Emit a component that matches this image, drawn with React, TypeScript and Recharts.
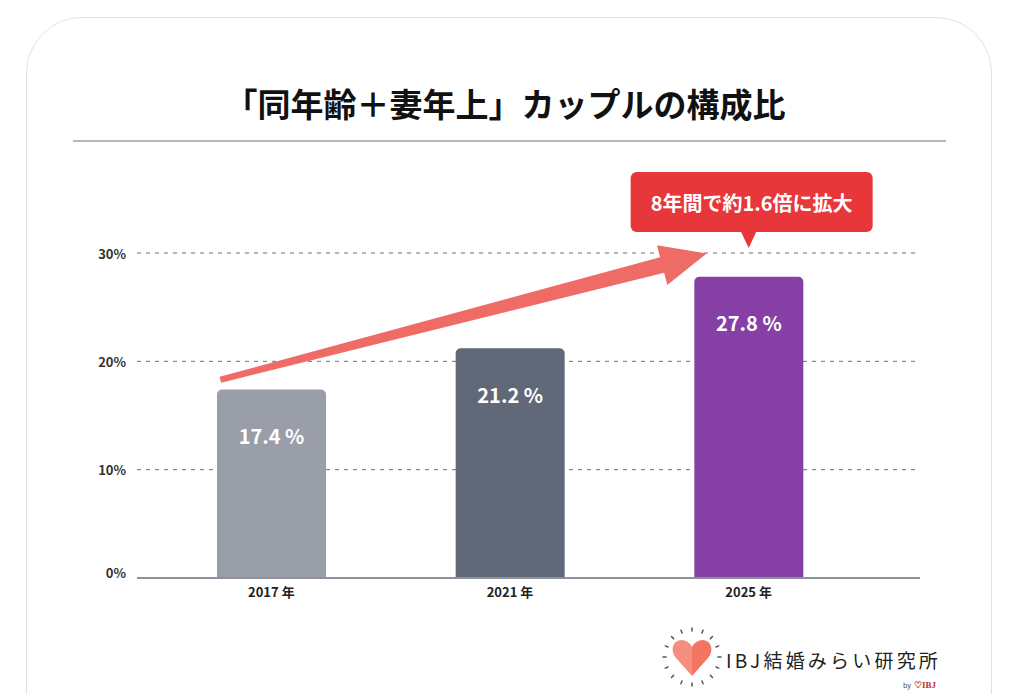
import React from "react";
import {
  BarChart,
  Bar,
  XAxis,
  YAxis,
  CartesianGrid,
  Cell,
  LabelList,
  ReferenceLine,
  ReferenceDot,
} from "recharts";

const categories = ["2017 年", "2021 年", "2025 年"];
const shares = [17.4, 21.2, 27.8];
const barColors = ["#9a9ea9", "#616877", "#863fa4"];
const yTicks = [0, 10, 20, 30];
const titleText = "「同年齢＋妻年上」カップルの構成比";
const calloutText = "8年間で約1.6倍に拡大";
const arrowFrom = { x: "2017 年", y: 18.3 };
const arrowTo = { x: "2025 年", y: 30 };

const data = categories.map((c, i) => ({ year: c, value: shares[i] }));

const FONT = '"Noto Sans CJK JP", "Noto Sans", sans-serif';

const YTick = (props: any) => {
  const { x, y, payload } = props;
  const dy = payload.value === 0 ? -6 : 0;
  return (
    <text
      x={x}
      y={y + dy}
      textAnchor="end"
      dominantBaseline="central"
      fontFamily={FONT}
      fontWeight={700}
      fontSize={13}
      fill="#333"
    >
      {payload.value}%
    </text>
  );
};

const XTick = (props: any) => {
  const { x, y, payload } = props;
  return (
    <text
      x={x}
      y={y + 11}
      textAnchor="middle"
      fontFamily={FONT}
      fontWeight={700}
      fontSize={13}
      fill="#222"
    >
      {payload.value}
    </text>
  );
};

const BarValue = (props: any) => {
  const { x, y, width, value } = props;
  return (
    <text
      x={x + width / 2}
      y={y + 46}
      textAnchor="middle"
      dominantBaseline="central"
      fontFamily={FONT}
      fontWeight={600}
      fontSize={20}
      fill="#ffffff"
    >
      {value.toFixed(1)} %
    </text>
  );
};

const ArrowShape = (props: any) => {
  const { x1, y1, x2, y2 } = props;
  if (x1 == null) return null;
  const sx = x1 - 51;
  const sy = y1;
  const tx = x2 - 42;
  const ty = y2 + 0.5;
  const dx = tx - sx;
  const dy = ty - sy;
  const len = Math.sqrt(dx * dx + dy * dy);
  const ux = dx / len;
  const uy = dy / len;
  const nx = -uy;
  const ny = ux;
  const headLen = 46;
  const bx = tx - ux * headLen;
  const by = ty - uy * headLen;
  const w0 = 3;
  const w1 = 8;
  const hw = 20.5;
  const pts = [
    [sx + nx * w0, sy + ny * w0],
    [bx + nx * w1, by + ny * w1],
    [bx + nx * hw, by + ny * hw],
    [tx, ty],
    [bx - nx * hw, by - ny * hw],
    [bx - nx * w1, by - ny * w1],
    [sx - nx * w0, sy - ny * w0],
  ]
    .map((p) => `${p[0].toFixed(1)},${p[1].toFixed(1)}`)
    .join(" ");
  return <polygon points={pts} fill="#ee6b66" />;
};

const CalloutShape = (props: any) => {
  const { cx, cy } = props;
  if (cx == null) return null;
  const tipY = cy - 5;
  const boxBottom = cy - 21;
  const boxTop = cy - 81;
  const left = cx - 118;
  const right = cx + 124;
  return (
    <g>
      <rect
        x={left}
        y={boxTop}
        width={right - left}
        height={boxBottom - boxTop}
        rx={6}
        ry={6}
        fill="#e8373a"
      />
      <polygon
        points={`${cx - 8},${boxBottom - 1} ${cx + 8},${boxBottom - 1} ${cx},${tipY}`}
        fill="#e8373a"
      />
      <text
        x={(left + right) / 2}
        y={(boxTop + boxBottom) / 2}
        textAnchor="middle"
        dominantBaseline="central"
        fontFamily={FONT}
        fontWeight={700}
        fontSize={20}
        fill="#ffffff"
      >
        {calloutText}
      </text>
    </g>
  );
};

const Logo = () => {
  const rays = [];
  const n = 16;
  for (let i = 0; i < n; i++) {
    const a = (i / n) * Math.PI * 2;
    const r1 = 26;
    const r2 = 29;
    rays.push(
      <line
        key={i}
        x1={692 + Math.cos(a) * r1}
        y1={657 + Math.sin(a) * r1}
        x2={692 + Math.cos(a) * r2}
        y2={657 + Math.sin(a) * r2}
        stroke="#555"
        strokeWidth={1.5}
        strokeLinecap="round"
      />
    );
  }
  return (
    <svg
      width={1024}
      height={694}
      style={{ position: "absolute", left: 0, top: 0, pointerEvents: "none" }}
    >
      {rays}
      <path
        d="M692,676 L676,658 C670,651 672,641 681,640 C686,640 690,643 692,647 Z"
        fill="#f58e7e"
      />
      <path
        d="M692,676 L708,658 C714,651 712,641 703,640 C698,640 694,643 692,647 Z"
        fill="#f27563"
      />
      <text
        x={726}
        y={668}
        fontFamily={FONT}
        fontWeight={400}
        fontSize={19}
        letterSpacing={3.2}
        fill="#222"
      >
        IBJ結婚みらい研究所
      </text>
      <text x={903} y={688} fontFamily={FONT} fontSize={7} fill="#444">
        by
      </text>
      <text
        x={914}
        y={688}
        fontFamily="Liberation Serif, serif"
        fontWeight={700}
        fontSize={9}
        fill="#c0313a"
      >
        ♡IBJ
      </text>
    </svg>
  );
};

export default function App() {
  return (
    <div
      style={{
        position: "absolute",
        left: 0,
        top: 0,
        width: 1024,
        height: 694,
        background: "#ffffff",
        overflow: "hidden",
        fontFamily: FONT,
      }}
    >
      <div
        style={{
          position: "absolute",
          left: 26,
          top: 17,
          width: 966,
          height: 760,
          border: "1.5px solid #e2e2e2",
          borderRadius: 56,
          boxSizing: "border-box",
        }}
      />
      <div
        style={{
          position: "absolute",
          left: 0,
          width: 1010,
          top: 81,
          textAlign: "center",
          fontSize: 33,
          fontWeight: 700,
          color: "#111",
          lineHeight: "44px",
        }}
      >
        {titleText}
      </div>
      <div
        style={{
          position: "absolute",
          left: 73,
          top: 140,
          width: 873,
          height: 1.5,
          background: "#b4b8bf",
        }}
      />
      <div style={{ position: "absolute", left: 0, top: 0 }}>
        <BarChart
          width={1024}
          height={694}
          data={data}
          margin={{ top: 253, right: 104, bottom: 86, left: 57 }}
        >
          <CartesianGrid
            vertical={false}
            stroke="#6f6f6f"
            strokeDasharray="4 5"
            strokeWidth={1}
          />
          <XAxis
            dataKey="year"
            height={30}
            tickLine={false}
            axisLine={{ stroke: "#8d919b", strokeWidth: 2 }}
            tick={<XTick />}
            padding={{ left: 15, right: 52 }}
            interval={0}
          />
          <YAxis
            width={80}
            domain={[0, 30]}
            ticks={yTicks}
            axisLine={false}
            tickLine={false}
            tickMargin={5}
            tick={<YTick />}
          />
          <Bar
            dataKey="value"
            barSize={109}
            radius={[5, 5, 0, 0]}
            isAnimationActive={false}
          >
            {data.map((d, i) => (
              <Cell key={d.year} fill={barColors[i]} />
            ))}
            <LabelList dataKey="value" content={<BarValue />} />
          </Bar>
          <ReferenceLine
            segment={[arrowFrom, arrowTo]}
            ifOverflow="visible"
            shape={<ArrowShape />}
          />
          <ReferenceDot
            x="2025 年"
            y={30}
            ifOverflow="visible"
            shape={<CalloutShape />}
          />
        </BarChart>
      </div>
      <Logo />
    </div>
  );
}
